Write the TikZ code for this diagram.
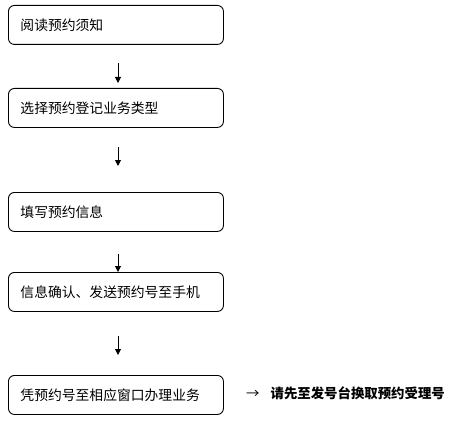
\documentclass[tikz,border=0pt]{standalone}
\usepackage{fontspec}
\newfontfamily\cjk{Noto Sans CJK SC}
\usetikzlibrary{arrows.meta}
\begin{document}
\begin{tikzpicture}[x=1pt,y=-1pt,
  stepbox/.style={draw=black,line width=0.9pt,rounded corners=6pt,minimum width=215pt,minimum height=39pt,inner xsep=12pt,inner ysep=0pt,text width=191pt,align=left,font=\cjk\fontsize{13.8}{16}\selectfont,anchor=north west},
  flow/.style={draw=black,line width=1pt,-{Triangle[length=6pt,width=6pt]}}]
\useasboundingbox (0,0) rectangle (452,425);
\node[stepbox] (b1) at (8,5) {阅读预约须知};
\node[stepbox] (b2) at (8,88) {选择预约登记业务类型};
\node[stepbox] (b3) at (8,192) {填写预约信息};
\node[stepbox] (b4) at (8,272) {信息确认、发送预约号至手机};
\node[stepbox] (b5) at (8,375) {凭预约号至相应窗口办理业务};
\coordinate (a1s) at (118,63); \coordinate (a1e) at (118,83);
\coordinate (a2s) at (118,147); \coordinate (a2e) at (118,166);
\coordinate (a3s) at (118,254); \coordinate (a3e) at (118,272);
\coordinate (a4s) at (118,336); \coordinate (a4e) at (118,355);
\draw[flow] (a1s) -- (a1e);
\draw[flow] (a2s) -- (a2e);
\draw[flow] (a3s) -- (a3e);
\draw[flow] (a4s) -- (a4e);
\node[font=\cjk\fontsize{13.4}{16}\selectfont,anchor=west,inner sep=0pt] (note) at (246,393) {→\hspace{11pt}\bfseries 请先至发号台换取预约受理号};
\end{tikzpicture}
\end{document}
